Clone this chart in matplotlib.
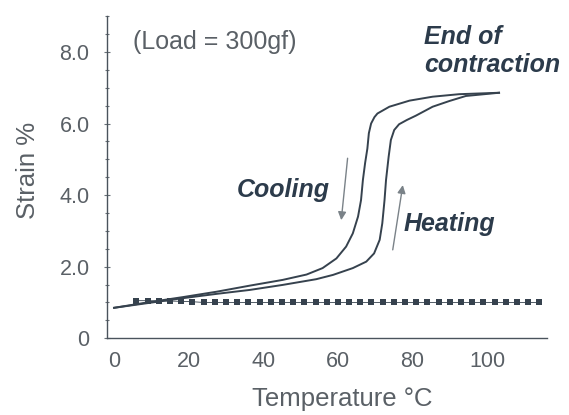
import matplotlib
matplotlib.use("Agg")
import matplotlib.pyplot as plt
from matplotlib.ticker import MultipleLocator, FixedLocator

plt.rcParams["font.family"] = ["Liberation Sans", "DejaVu Sans"]

# ----------------------------------------------------
# Data (strain % vs temperature, load = 300 gf)
# ----------------------------------------------------

cooling_temp = [0, 8.9, 18.5, 27.5, 36.4, 45.2, 51.6, 55.9, 59.6, 62.2, 64.0,
                65.4, 66.2, 66.7, 67.3, 67.9, 68.3, 68.9, 69.8, 70.6, 73.8, 79.2,
                85.4, 92.5, 103.2]
cooling_strain = [0.85, 1.0, 1.15, 1.30, 1.47, 1.63, 1.78, 1.96, 2.23, 2.56, 2.93,
                  3.40, 3.86, 4.42, 4.90, 5.30, 5.73, 6.00, 6.18, 6.28, 6.47, 6.64,
                  6.75, 6.82, 6.86]

heating_temp = [0, 8.9, 18.5, 27.5, 36.4, 45.2, 54.2, 58.7, 64.0, 67.6, 69.7,
                71.2, 71.9, 72.5, 72.9, 73.6, 74.2, 75.1, 76.4, 78.5, 80.9,
                85.4, 89.9, 94.3, 103.2]
heating_strain = [0.85, 0.98, 1.12, 1.24, 1.35, 1.49, 1.65, 1.77, 1.96, 2.14, 2.37,
                  2.75, 3.21, 3.86, 4.42, 5.07, 5.54, 5.82, 5.98, 6.10, 6.22,
                  6.47, 6.63, 6.77, 6.86]

# no-load reference (dotted)
ref_temp = [6, 9, 12, 15, 18, 21, 24, 27, 30, 33, 36, 39, 42, 45, 48, 51, 54,
            57, 60, 63, 66, 69, 72, 75, 78, 81, 84, 87, 90, 93, 96, 99, 102,
            105, 108, 111, 114]
ref_strain = [1.05, 1.05, 1.04, 1.04, 1.03, 1.02, 1.0, 1.0, 1.0, 1.0, 1.0, 1.0,
              1.0, 1.0, 1.0, 1.0, 1.0, 1.0, 1.0, 1.0, 1.0, 1.0, 1.0, 1.0, 1.0,
              1.0, 1.0, 1.0, 1.0, 1.0, 1.0, 1.0, 1.0, 1.0, 1.0, 1.0, 1.0]

y_ticks = [0, 2, 4, 6, 8]
y_tick_labels = ["0", "2.0", "4.0", "6.0", "8.0"]
x_ticks = [0, 20, 40, 60, 80, 100]

# ----------------------------------------------------
# Plot
# ----------------------------------------------------

line_color = "#36424e"
text_color = "#5a6066"
note_color = "#2c3b4b"

fig = plt.figure(figsize=(5.69, 4.15), dpi=100)
ax = fig.add_axes([0.188, 0.185, 0.773, 0.776])

ax.plot(cooling_temp, cooling_strain, color=line_color, linewidth=1.4)
ax.plot(heating_temp, heating_strain, color=line_color, linewidth=1.4)
ax.plot(ref_temp, ref_strain, color=line_color, linewidth=0.6,
        marker="s", markersize=4.2, markeredgewidth=0)

ax.set_xlim(-1.9, 116)
ax.set_ylim(0, 9)

for side in ["top", "right"]:
    ax.spines[side].set_visible(False)
for side in ["left", "bottom"]:
    ax.spines[side].set_color("#4a535c")
    ax.spines[side].set_linewidth(1.0)

ax.xaxis.set_major_locator(FixedLocator(x_ticks))
ax.tick_params(axis="x", length=0, pad=9, labelsize=15.5, labelcolor=text_color)

ax.yaxis.set_major_locator(FixedLocator(y_ticks))
ax.set_yticklabels(y_tick_labels)
ax.yaxis.set_minor_locator(MultipleLocator(0.5))
ax.tick_params(axis="y", which="major", direction="inout", length=5,
               width=0.8, color="#6a7178", pad=10, labelsize=15.5,
               labelcolor=text_color)
ax.tick_params(axis="y", which="minor", direction="inout", length=3,
               width=0.8, color="#6a7178")

ax.set_xlabel("Temperature °C", fontsize=18.5, color=text_color)
ax.xaxis.set_label_coords(0.536, -0.19)
ax.xaxis.label.set_va("center")
ax.set_ylabel("Strain %", fontsize=18.5, color=text_color)
ax.yaxis.set_label_coords(-0.18, 0.52)
ax.yaxis.label.set_va("center")

# annotations
ax.text(5.1, 8.28, "(Load = 300gf)", fontsize=18, color=text_color,
        ha="left", va="center")
ax.text(83.2, 8.03, "End of\ncontraction", fontsize=18, color=note_color,
        fontweight="bold", fontstyle="italic", ha="left", va="center",
        linespacing=1.22)
ax.text(32.9, 4.14, "Cooling", fontsize=18, color=note_color,
        fontweight="bold", fontstyle="italic", ha="left", va="center")
ax.text(77.5, 3.2, "Heating", fontsize=18, color=note_color,
        fontweight="bold", fontstyle="italic", ha="left", va="center")

arrow_style = dict(arrowstyle="-|>", color="#7a8288", lw=1.0,
                   mutation_scale=12, shrinkA=0, shrinkB=0)
ax.annotate("", xy=(60.9, 3.30), xytext=(62.6, 5.03), arrowprops=arrow_style)
ax.annotate("", xy=(77.4, 4.28), xytext=(74.7, 2.47), arrowprops=arrow_style)

fig.savefig("out.png", dpi=100)
plt.close(fig)
